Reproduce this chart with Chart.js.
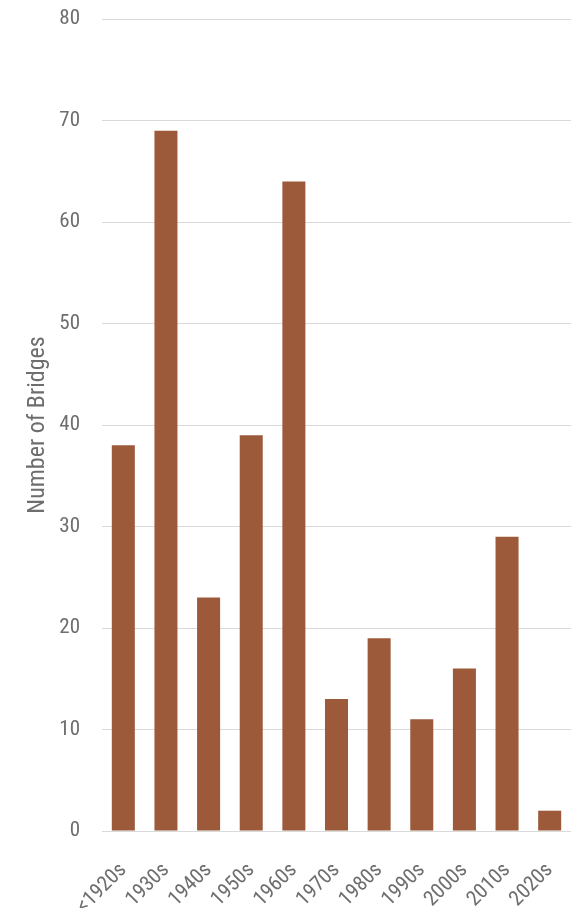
<!DOCTYPE html>
<html>
<head>
<meta charset="utf-8">
<script src="https://cdn.jsdelivr.net/npm/chart.js@4/dist/chart.umd.min.js"></script>
<style>
  html, body { margin: 0; padding: 0; background: #ffffff; }
  #wrap { width: 574px; height: 908px; position: relative; }
</style>
</head>
<body>
<div id="wrap"><canvas id="c"></canvas></div>
<script>
// Bridges built per decade
const decades = ['<1920s', '1930s', '1940s', '1950s', '1960s', '1970s', '1980s', '1990s', '2000s', '2010s', '2020s'];
const bridgeCounts = [38, 69, 23, 39, 64, 13, 19, 11, 16, 29, 2];
const yTicks = [0, 10, 20, 30, 40, 50, 60, 70, 80];

const fontFamily = "'Roboto Condensed', 'DejaVu Sans Condensed', sans-serif";
const textColor = '#6e6e6e';

new Chart(document.getElementById('c'), {
  type: 'bar',
  data: {
    labels: decades,
    datasets: [{
      data: bridgeCounts,
      backgroundColor: '#9c5a3b',
      borderWidth: 0,
      barPercentage: 0.54,
      categoryPercentage: 1.0
    }]
  },
  options: {
    responsive: true,
    maintainAspectRatio: false,
    animation: false,
    layout: { padding: { top: 19, right: 3, bottom: 0, left: 20 } },
    plugins: { legend: { display: false }, tooltip: { enabled: false } },
    scales: {
      x: {
        grid: { display: false },
        border: { display: false },
        ticks: {
          color: textColor,
          font: { family: fontFamily, size: 21 },
          minRotation: 45,
          maxRotation: 45,
          padding: 19
        },
        afterFit: (axis) => {
          axis.height = 77;
          axis.paddingLeft = 0;
          axis.paddingRight = 0;
        }
      },
      y: {
        min: 0,
        max: 80,
        afterBuildTicks: (axis) => { axis.ticks = yTicks.map(v => ({ value: v })); },
        grid: { color: '#dadada', lineWidth: 1, drawTicks: false },
        border: { display: false },
        ticks: {
          color: textColor,
          font: { family: fontFamily, size: 21 },
          padding: 22
        },
        title: {
          display: true,
          text: 'Number of Bridges',
          color: textColor,
          font: { family: fontFamily, size: 24 },
          padding: { top: 4, bottom: 0 }
        },
        afterFit: (axis) => {
          axis.width = 82;
          axis.paddingTop = 0;
          axis.paddingBottom = 0;
        }
      }
    }
  }
});
</script>
</body>
</html>
